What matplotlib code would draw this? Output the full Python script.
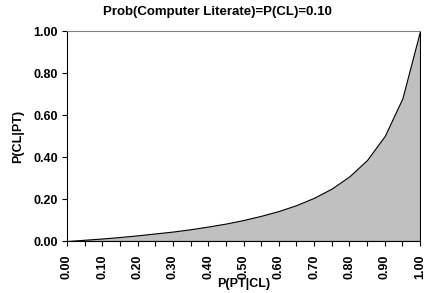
import matplotlib
matplotlib.use("Agg")
import matplotlib.pyplot as plt
import numpy as np

plt.rcParams['font.family'] = ['Liberation Sans', 'DejaVu Sans']
plt.rcParams['font.weight'] = 'bold'

# P(PT|CL) values and P(CL|PT)
p_pt_cl = [0.00, 0.05, 0.10, 0.15, 0.20, 0.25, 0.30, 0.35, 0.40, 0.45, 0.50,
           0.55, 0.60, 0.65, 0.70, 0.75, 0.80, 0.85, 0.90, 0.95, 1.00]
p_cl_pt = [0.000, 0.006, 0.012, 0.019, 0.027, 0.036, 0.045, 0.056, 0.069, 0.083, 0.100,
           0.120, 0.143, 0.171, 0.206, 0.250, 0.308, 0.386, 0.500, 0.679, 1.000]

x_ticks = [0.0, 0.1, 0.2, 0.3, 0.4, 0.5, 0.6, 0.7, 0.8, 0.9, 1.0]
y_ticks = [0.0, 0.2, 0.4, 0.6, 0.8, 1.0]

fig = plt.figure(figsize=(4.34, 2.93), dpi=100)
ax = fig.add_axes([67/434, 1 - 241/293, (420 - 67)/434, (241 - 31)/293])

ax.fill_between(p_pt_cl, p_cl_pt, 0, facecolor='#C0C0C0', edgecolor='black', linewidth=0.8)

ax.set_xlim(0, 1)
ax.set_ylim(0, 1)
ax.set_xticks(x_ticks)
ax.set_xticklabels([f"{v:.2f}" for v in x_ticks], rotation=90, fontsize=9, fontweight='bold')
ax.set_xticks(np.arange(0.05, 1.0, 0.1), minor=True)
ax.set_yticks(y_ticks)
ax.set_yticklabels([f"{v:.2f}" for v in y_ticks], fontsize=9, fontweight='bold')
ax.tick_params(axis='both', which='both', direction='out', length=3.5, width=0.8)
ax.tick_params(axis='x', pad=6)
ax.tick_params(axis='y', pad=3)

for s in ['left', 'bottom']:
    ax.spines[s].set_color('black')
    ax.spines[s].set_linewidth(0.8)
ax.spines['top'].set_color('#808080')
ax.spines['top'].set_linewidth(0.8)
ax.spines['right'].set_visible(False)

ax.set_xlabel('P(PT|CL)', fontsize=9, fontweight='bold')
ax.xaxis.set_label_coords(0.5, -(284 - 241) / 210, transform=ax.transAxes)
ax.xaxis.label.set_va('center')
ax.set_ylabel('P(CL|PT)', fontsize=9, fontweight='bold')
ax.yaxis.set_label_coords(-(67 - 18) / 353, 0.5, transform=ax.transAxes)
ax.yaxis.label.set_va('center')
fig.text(0.5, 1 - 12/293, 'Prob(Computer Literate)=P(CL)=0.10', ha='center', va='center',
         fontsize=9.5, fontweight='bold')

plt.savefig('out.png', dpi=100)
